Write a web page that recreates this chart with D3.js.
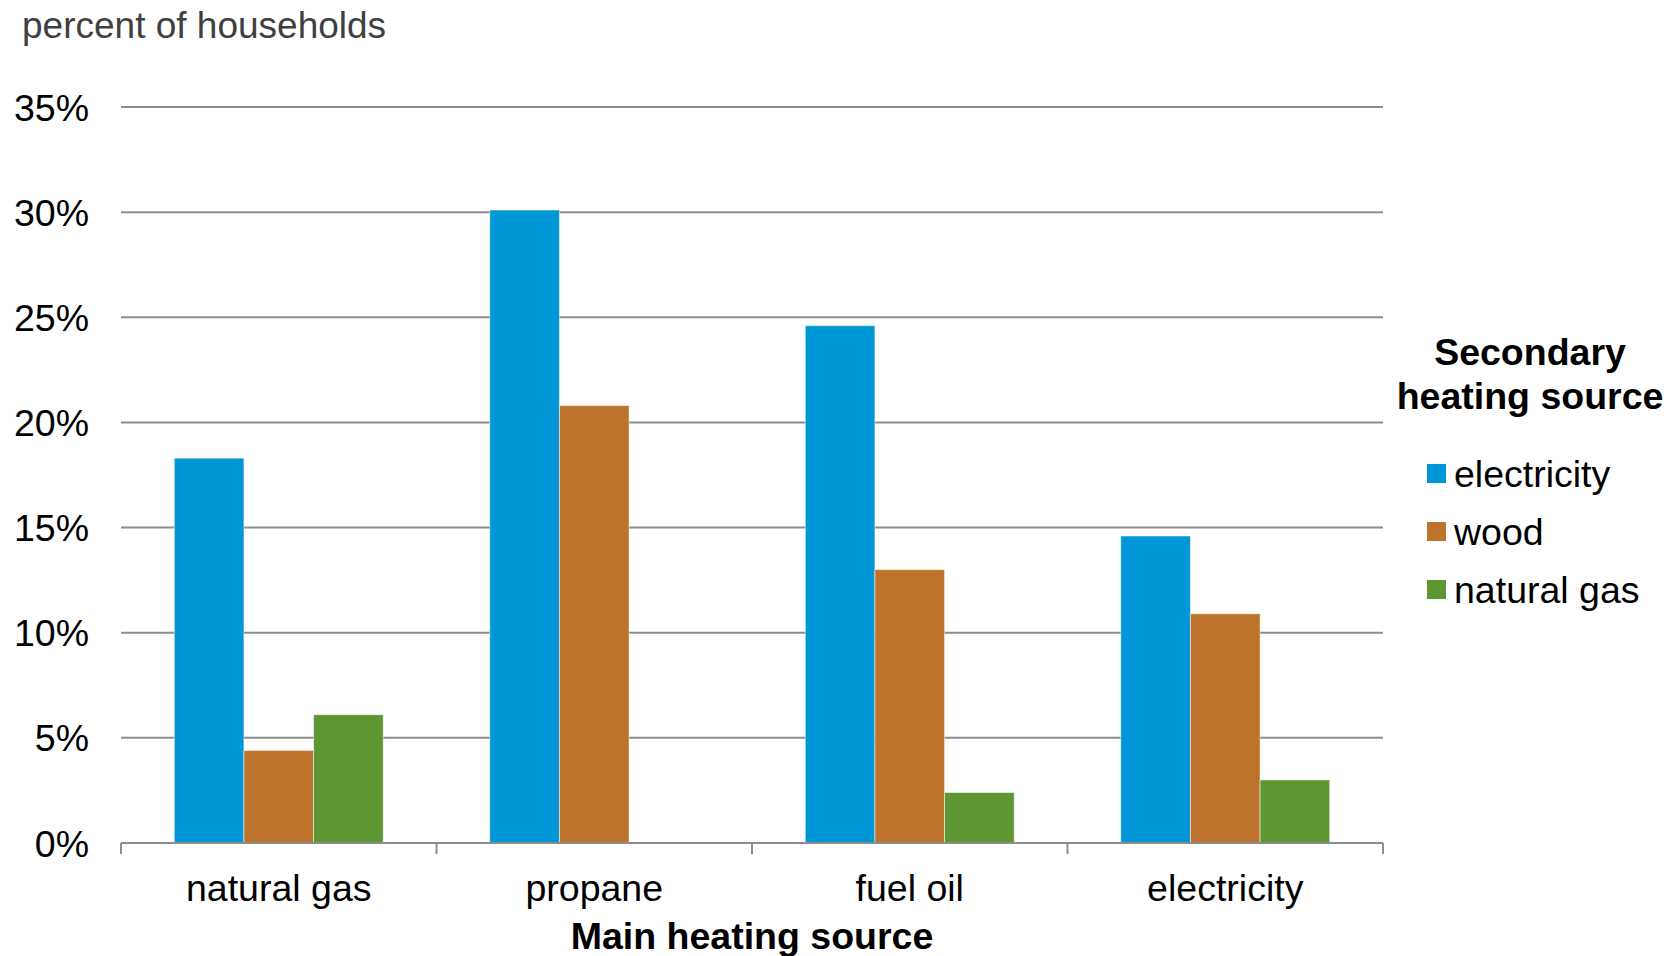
<!DOCTYPE html>
<html>
<head>
<meta charset="utf-8">
<script src="https://cdn.jsdelivr.net/npm/d3@7"></script>
<style>
  body { margin: 0; background: #fff; }
  text { font-family: "Liberation Sans", Arial, sans-serif; }
</style>
</head>
<body>
<div id="chart"></div>
<script>
// data
const categories = ["natural gas", "propane", "fuel oil", "electricity"];
const seriesNames = ["electricity", "wood", "natural gas"];
const electricity = [18.3, 30.1, 24.6, 14.6];
const wood = [4.4, 20.8, 13.0, 10.9];
const naturalGas = [6.1, 0, 2.4, 3.0];
const yTicks = [0, 5, 10, 15, 20, 25, 30, 35];
const colors = ["#0096d7", "#bd732b", "#5d9732"];

const W = 1674, H = 956;
const margin = {top: 107, right: 291, bottom: 113, left: 121},
    width = W - margin.left - margin.right,
    height = H - margin.top - margin.bottom;
const fs = 37.5;

const svg = d3.select("#chart")
    .append("svg")
    .attr("width", W)
    .attr("height", H);

const g = svg.append("g")
    .attr("transform", `translate(${margin.left},${margin.top})`);

const data = categories.map((c, i) => ({
    cat: c,
    values: [electricity[i], wood[i], naturalGas[i]]
}));

const xScale = d3.scaleBand()
    .domain(categories)
    .range([0, width])
    .padding(0);

const xSub = d3.scaleBand()
    .domain(seriesNames)
    .range([0, xScale.bandwidth()])
    .paddingInner(0)
    .paddingOuter(0.765);

const yScale = d3.scaleLinear()
    .domain([0, 35])
    .range([height, 0]);

// gridlines
g.append("g")
    .selectAll("line")
    .data(yTicks.filter(d => d > 0))
    .join("line")
    .attr("x1", 0)
    .attr("x2", width)
    .attr("y1", d => yScale(d))
    .attr("y2", d => yScale(d))
    .attr("stroke", "#8c8c8c")
    .attr("stroke-width", 2);

// y tick labels
g.append("g")
    .selectAll("text")
    .data(yTicks)
    .join("text")
    .attr("x", -32)
    .attr("y", d => yScale(d))
    .attr("dy", "0.36em")
    .attr("text-anchor", "end")
    .attr("font-size", fs)
    .attr("fill", "#000")
    .text(d => d + "%");

// bars
g.append("g")
    .selectAll("g")
    .data(data)
    .join("g")
    .attr("transform", d => `translate(${xScale(d.cat)},0)`)
    .selectAll("rect")
    .data(d => d.values.map((v, i) => ({key: seriesNames[i], value: v, i: i})))
    .join("rect")
    .attr("x", d => xSub(d.key))
    .attr("y", d => yScale(d.value))
    .attr("width", xSub.bandwidth())
    .attr("height", d => height - yScale(d.value))
    .attr("fill", d => colors[d.i])
    .attr("stroke", "#ffffff")
    .attr("stroke-opacity", 0.5)
    .attr("stroke-width", d => d.value > 0 ? 1 : 0);

// x axis
const xAxis = g.append("g")
    .attr("transform", `translate(0,${height})`);
xAxis.append("line")
    .attr("x1", 0).attr("x2", width)
    .attr("stroke", "#8c8c8c")
    .attr("stroke-width", 2);
const bounds = categories.map(c => xScale(c)).concat([width]);
xAxis.selectAll(".tk")
    .data(bounds)
    .join("line")
    .attr("class", "tk")
    .attr("x1", d => d).attr("x2", d => d)
    .attr("y1", 0).attr("y2", 11)
    .attr("stroke", "#8c8c8c")
    .attr("stroke-width", 2);
xAxis.selectAll(".cat")
    .data(categories)
    .join("text")
    .attr("class", "cat")
    .attr("x", d => xScale(d) + xScale.bandwidth() / 2)
    .attr("y", 58)
    .attr("text-anchor", "middle")
    .attr("font-size", fs)
    .attr("fill", "#000")
    .text(d => d);

// axis titles
g.append("text")
    .attr("x", width / 2)
    .attr("y", height + 106)
    .attr("text-anchor", "middle")
    .attr("font-size", fs)
    .attr("font-weight", "bold")
    .attr("fill", "#000")
    .text("Main heating source");

svg.append("text")
    .attr("x", 22)
    .attr("y", 38)
    .attr("font-size", 37)
    .attr("fill", "#404040")
    .text("percent of households");

// legend
const legend = svg.append("g");
legend.selectAll(".lt")
    .data(["Secondary", "heating source"])
    .join("text")
    .attr("class", "lt")
    .attr("x", 1530)
    .attr("y", (d, i) => 365 + i * 44)
    .attr("text-anchor", "middle")
    .attr("font-size", fs)
    .attr("font-weight", "bold")
    .attr("fill", "#000")
    .text(d => d);

const items = legend.selectAll(".li")
    .data(seriesNames)
    .join("g")
    .attr("class", "li")
    .attr("transform", (d, i) => `translate(1427,${473 + i * 58})`);
items.append("rect")
    .attr("x", 0).attr("y", -9)
    .attr("width", 19).attr("height", 19)
    .attr("fill", (d, i) => colors[i]);
items.append("text")
    .attr("x", 27)
    .attr("y", 0)
    .attr("dy", "0.36em")
    .attr("font-size", fs)
    .attr("fill", "#000")
    .text(d => d);
</script>
</body>
</html>
